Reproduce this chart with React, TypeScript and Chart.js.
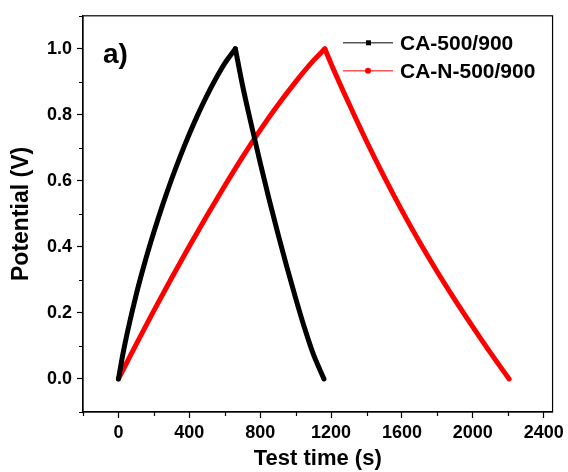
import { useEffect, useRef } from 'react';
import { Chart, registerables } from 'chart.js';

Chart.register(...registerables);

const FONT = '"Liberation Sans", Arial, Helvetica, sans-serif';

// CA-500/900 (black)
const caChargeTime = [0, 25, 50, 100, 150, 200, 250, 300, 350, 400, 450, 500, 550, 600, 660];
const caChargeV = [0, 0.075, 0.14, 0.255, 0.355, 0.445, 0.528, 0.605, 0.676, 0.742, 0.803, 0.859, 0.91, 0.956, 1.0];
const caDischargeTime = [660, 700, 750, 800, 850, 900, 950, 1000, 1050, 1100, 1160];
const caDischargeV = [1.0, 0.89, 0.77, 0.655, 0.545, 0.44, 0.34, 0.245, 0.155, 0.075, 0];

// CA-N-500/900 (red)
const canChargeTime = [0, 100, 200, 300, 400, 500, 600, 700, 800, 900, 1000, 1100, 1165];
const canChargeV = [0, 0.105, 0.207, 0.306, 0.402, 0.495, 0.585, 0.672, 0.754, 0.83, 0.9, 0.964, 1.0];
const canDischargeTime = [1165, 1200, 1300, 1400, 1500, 1600, 1700, 1800, 1900, 2000, 2100, 2205];
const canDischargeV = [1.0, 0.955, 0.835, 0.72, 0.612, 0.51, 0.414, 0.324, 0.239, 0.158, 0.079, 0];

const seriesLabels = ['CA-500/900', 'CA-N-500/900'];
const seriesColors = ['#000000', '#ff0000'];
const legendLineColors = ['#555555', '#ff5555'];

const xTickValues = [-200, 0, 200, 400, 600, 800, 1000, 1200, 1400, 1600, 1800, 2000, 2200, 2400];
const xMajorLabels = ['0', '400', '800', '1200', '1600', '2000', '2400'];
const yTickValues = [-0.1, 0, 0.1, 0.2, 0.3, 0.4, 0.5, 0.6, 0.7, 0.8, 0.9, 1.0, 1.1];
const yMajorLabels = ['0.0', '0.2', '0.4', '0.6', '0.8', '1.0'];

const xLabelOf = (v: number) => {
  const s = String(Math.round(v));
  return xMajorLabels.includes(s) ? s : '';
};
const yLabelOf = (v: number) => {
  const s = (Math.round(v * 10) / 10).toFixed(1);
  return yMajorLabels.includes(s) ? s : '';
};

const toPoints = (t: number[], v: number[]) => t.map((x, i) => ({ x, y: v[i] }));

const lineDs = (label: string, color: string, data: { x: number; y: number }[]) => ({
  label,
  data,
  borderColor: color,
  backgroundColor: color,
  borderWidth: 5,
  pointRadius: 0,
  cubicInterpolationMode: 'monotone',
  borderJoinStyle: 'round',
  borderCapStyle: 'round',
});

const framePlugin = {
  id: 'frame',
  afterDraw(chart: any) {
    const { ctx, chartArea: a, scales } = chart;
    ctx.save();
    ctx.strokeStyle = '#000';
    ctx.lineWidth = 1.2;
    ctx.strokeRect(a.left, a.top, a.right - a.left, a.bottom - a.top);
    // minor ticks
    ctx.beginPath();
    scales.x.ticks.forEach((t: any) => {
      if (xLabelOf(t.value) === '') {
        const px = Math.round(scales.x.getPixelForValue(t.value)) + 0.5;
        ctx.moveTo(px, a.bottom);
        ctx.lineTo(px, a.bottom + 4);
      }
    });
    scales.y.ticks.forEach((t: any) => {
      if (yLabelOf(t.value) === '') {
        const py = Math.round(scales.y.getPixelForValue(t.value)) + 0.5;
        ctx.moveTo(a.left, py);
        ctx.lineTo(a.left - 4, py);
      }
    });
    ctx.stroke();

    // panel label
    ctx.fillStyle = '#000';
    ctx.font = `bold 28px ${FONT}`;
    ctx.textBaseline = 'alphabetic';
    ctx.textAlign = 'left';
    ctx.fillText('a)', a.left + 20, a.top + 47);

    // legend
    ctx.font = `bold 21px ${FONT}`;
    ctx.textBaseline = 'middle';
    seriesLabels.forEach((label, i) => {
      const y = a.top + 27 + i * 28;
      const x0 = a.left + 260;
      const x1 = x0 + 50;
      ctx.strokeStyle = legendLineColors[i];
      ctx.lineWidth = 1.5;
      ctx.beginPath();
      ctx.moveTo(x0, y);
      ctx.lineTo(x1, y);
      ctx.stroke();
      ctx.fillStyle = seriesColors[i];
      if (i === 0) {
        ctx.fillRect(x0 + 23, y - 2.5, 5, 5);
      } else {
        ctx.beginPath();
        ctx.arc(x0 + 25, y, 3, 0, Math.PI * 2);
        ctx.fill();
      }
      ctx.fillStyle = '#000';
      ctx.fillText(label, x1 + 7, y + 1);
    });
    ctx.restore();
  },
};

export default function App() {
  const ref = useRef<HTMLCanvasElement | null>(null);
  useEffect(() => {
    if (!ref.current) return;
    const chart = new Chart(ref.current, {
      type: 'line',
      data: {
        datasets: [
          lineDs(seriesLabels[0], seriesColors[0], toPoints(caChargeTime, caChargeV)),
          lineDs(seriesLabels[0], seriesColors[0], toPoints(caDischargeTime, caDischargeV)),
          lineDs(seriesLabels[1], seriesColors[1], toPoints(canChargeTime, canChargeV)),
          lineDs(seriesLabels[1], seriesColors[1], toPoints(canDischargeTime, canDischargeV)),
        ],
      },
      options: {
        animation: false,
        responsive: true,
        maintainAspectRatio: false,
        layout: { padding: { top: 14, right: 15, left: 0, bottom: 0 } },
        plugins: { legend: { display: false }, tooltip: { enabled: false } },
        scales: {
          x: {
            type: 'linear',
            min: -200,
            max: 2450,
            afterBuildTicks: (s: any) => {
              s.ticks = xTickValues.map((v) => ({ value: v }));
            },
            afterFit: (s: any) => {
              s.height = 60;
            },
            ticks: {
              autoSkip: false,
              maxRotation: 0,
              minRotation: 0,
              padding: 4,
              color: '#000',
              font: { family: FONT, size: 18, weight: 'bold' },
              callback: (v: any) => xLabelOf(Number(v)),
            },
            grid: {
              drawOnChartArea: false,
              drawTicks: true,
              tickLength: 6,
              tickWidth: 1.2,
              tickColor: (c: any) => (c.tick && xLabelOf(c.tick.value) !== '' ? '#000' : 'rgba(0,0,0,0)'),
            },
            border: { display: true, color: '#000', width: 1.2 },
            title: {
              display: true,
              text: 'Test time (s)',
              color: '#000',
              font: { family: FONT, size: 22, weight: 'bold' },
              padding: { top: 0, bottom: 0 },
            },
          },
          y: {
            type: 'linear',
            min: -0.1,
            max: 1.1,
            afterBuildTicks: (s: any) => {
              s.ticks = yTickValues.map((v) => ({ value: v }));
            },
            afterFit: (s: any) => {
              s.width = 83;
            },
            ticks: {
              autoSkip: false,
              padding: 5,
              color: '#000',
              font: { family: FONT, size: 18, weight: 'bold' },
              callback: (v: any) => yLabelOf(Number(v)),
            },
            grid: {
              drawOnChartArea: false,
              drawTicks: true,
              tickLength: 6,
              tickWidth: 1.2,
              tickColor: (c: any) => (c.tick && yLabelOf(c.tick.value) !== '' ? '#000' : 'rgba(0,0,0,0)'),
            },
            border: { display: true, color: '#000', width: 1.2 },
            title: {
              display: true,
              text: 'Potential (V)',
              color: '#000',
              font: { family: FONT, size: 23, weight: 'bold' },
              padding: { top: 8, bottom: 0 },
            },
          },
        },
      },
      plugins: [framePlugin],
    } as any);
    return () => chart.destroy();
  }, []);
  return (
    <div style={{ position: 'fixed', left: 0, top: 0, width: 568, height: 472, background: '#fff' }}>
      <canvas ref={ref} />
    </div>
  );
}
